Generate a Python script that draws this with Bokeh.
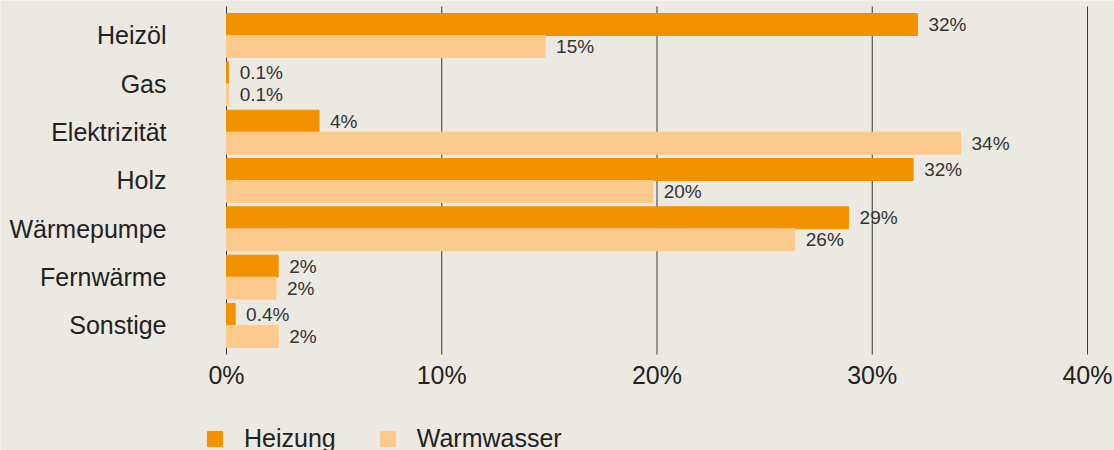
from bokeh.plotting import figure
from bokeh.models import ColumnDataSource, FixedTicker, Legend, LegendItem, Range1d
from bokeh.embed import file_html
from bokeh.resources import INLINE
from bokeh.core.properties import value

categories = ["Heizöl", "Gas", "Elektrizität", "Holz", "Wärmepumpe", "Fernwärme", "Sonstige"]
heizung = [32.1, 0.1, 4.3, 31.9, 28.9, 2.4, 0.4]
warmwasser = [14.8, 0.1, 34.1, 19.8, 26.4, 2.3, 2.4]
heizung_labels = ["32%", "0.1%", "4%", "32%", "29%", "2%", "0.4%"]
warmwasser_labels = ["15%", "0.1%", "34%", "20%", "26%", "2%", "2%"]
x_ticks = [0, 10, 20, 30, 40]
x_tick_labels = ["0%", "10%", "20%", "30%", "40%"]
series_names = ["Heizung", "Warmwasser"]

BG = "#ece9e2"
C_H = "#f39200"
C_W = "#fdca8e"
FONT = "Liberation Sans"
TXT = "#222222"

n = len(categories)
pos = [n - 1 - i for i in range(n)]
off = 0.2275
bh = 0.455
y_lo, y_hi = -0.6, n - 0.4          # extent of the category band

W, H = 1114, 450
px_x = 21.525                        # pixels per percent
px_y = 48.33                         # pixels per category
x_start = -226 / px_x
x_end = x_ticks[-1] + 27 / px_x
y_top = y_hi + 6 / px_y
y_bot = y_top - H / px_y

src_h = ColumnDataSource(dict(y=[p_ + off for p_ in pos], v=heizung, lab=heizung_labels))
src_w = ColumnDataSource(dict(y=[p_ - off for p_ in pos], v=warmwasser, lab=warmwasser_labels))

p = figure(width=W, height=H, output_backend="svg", toolbar_location=None,
           x_range=Range1d(x_start, x_end), y_range=Range1d(y_bot, y_top),
           min_border_left=0, min_border_right=0, min_border_top=0, min_border_bottom=0)
p.background_fill_color = BG
p.border_fill_color = BG
p.outline_line_color = None
p.grid.visible = False

# vertical grid lines limited to the category band
p.segment(x0=x_ticks, x1=x_ticks, y0=[y_lo] * len(x_ticks), y1=[y_hi] * len(x_ticks),
          line_color="#3a3a3a", line_width=1)

r_h = p.hbar(y="y", right="v", left=0, height=bh, color=C_H, source=src_h)
r_w = p.hbar(y="y", right="v", left=0, height=bh, color=C_W, source=src_w)

for src in (src_h, src_w):
    p.text(x="v", y="y", text="lab", source=src, x_offset=11, text_baseline="middle",
           text_align="left", text_font=value(FONT), text_font_size="19px", text_color="#333333")

# x axis, fixed at the bottom of the category band
p.xaxis.fixed_location = y_lo
p.xaxis.ticker = FixedTicker(ticks=x_ticks)
p.xaxis.major_label_overrides = {t: l for t, l in zip(x_ticks, x_tick_labels)}
p.xaxis.axis_line_color = None
p.xaxis.major_tick_line_color = None
p.xaxis.minor_tick_line_color = None
p.xaxis.major_label_text_font = FONT
p.xaxis.major_label_text_font_size = "25px"
p.xaxis.major_label_text_color = TXT
p.xaxis.major_label_standoff = 1

# y axis, fixed at x = 0
p.yaxis.fixed_location = 0
p.yaxis.ticker = FixedTicker(ticks=pos)
p.yaxis.major_label_overrides = {pp: c for pp, c in zip(pos, categories)}
p.yaxis.axis_line_color = None
p.yaxis.major_tick_line_color = None
p.yaxis.minor_tick_line_color = None
p.yaxis.major_label_text_font = FONT
p.yaxis.major_label_text_font_size = "25px"
p.yaxis.major_label_text_color = TXT
p.yaxis.major_label_standoff = 54

legend = Legend(items=[LegendItem(label=series_names[0], renderers=[r_h]),
                       LegendItem(label=series_names[1], renderers=[r_w])],
                orientation="horizontal", location=(205, -3),
                glyph_width=19, glyph_height=19, label_standoff=20, spacing=42,
                padding=0, margin=0, border_line_color=None, background_fill_alpha=0,
                label_text_font=FONT, label_text_font_size="25px", label_text_color=TXT)
p.add_layout(legend, "center")

html = file_html(p, INLINE)
html = html.replace("<body>", '<body style="margin:0;background:%s;">' % BG, 1)
open("out.html", "w").write(html)
